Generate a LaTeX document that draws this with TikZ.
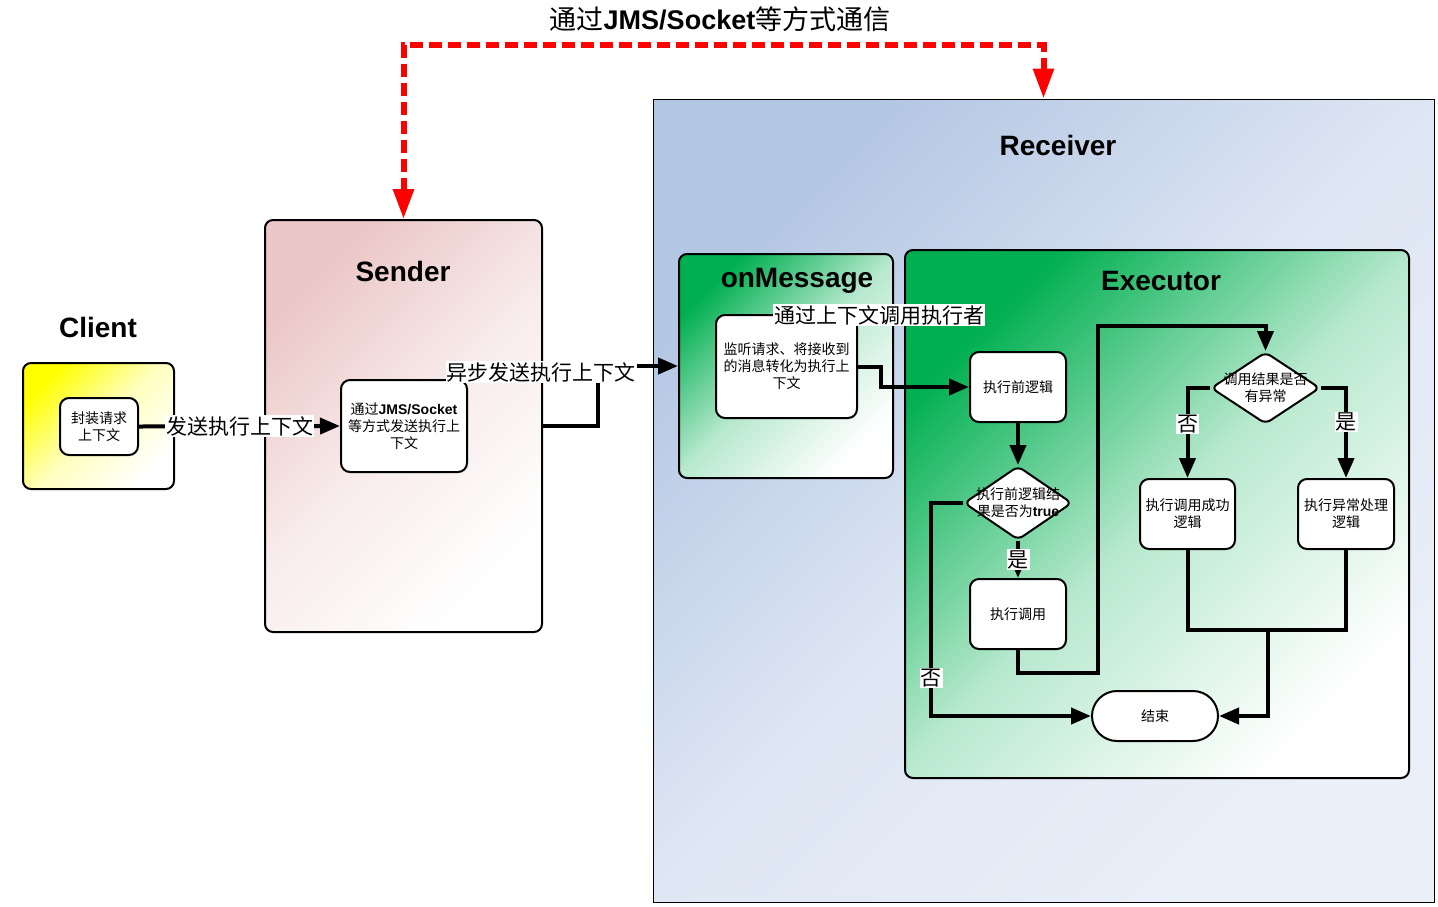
\documentclass[tikz,border=0pt]{standalone}
\usepackage{fontspec}
\setmainfont{Liberation Sans}
\newfontfamily\cjk{Noto Sans CJK SC}
\usetikzlibrary{shapes.geometric,arrows.meta,positioning}

\definecolor{clientyellow}{HTML}{FFFF00}
\definecolor{senderpink}{HTML}{EBC6C6}
\definecolor{recvblue}{HTML}{B3C6E3}
\definecolor{recvpale}{HTML}{EAEFF8}
\definecolor{execgreen}{HTML}{00AF50}

\tikzset{
  frame/.style={draw, line width=2pt, rounded corners=8pt},
  title/.style={font=\rmfamily\bfseries\fontsize{28}{28}\selectfont},
  box/.style={draw, fill=white, line width=2pt, rounded corners=9pt, align=center,
    inner sep=2pt, font=\cjk\fontsize{14}{17}\selectfont},
  decide/.style={draw, fill=white, line width=2pt, diamond, rounded corners=6pt, inner sep=0pt},
  conn/.style={line width=4pt, -{Triangle[length=20pt,width=16pt]}},
  lab/.style={fill=white, inner sep=1pt, font=\cjk\fontsize{21}{21}\selectfont}
}

\begin{document}
\begin{tikzpicture}[x=1pt, y=-1pt]
\useasboundingbox (0,0) rectangle (1438,906);

% containers
\node[frame, top color=clientyellow, bottom color=white, middle color=clientyellow!25!white,
  shading angle=45, minimum width=151pt, minimum height=126pt] (client) at (98.5,426) {};
\node[title] (clienttitle) at (98,327) {Client};
\node[frame, top color=senderpink, bottom color=white, middle color=senderpink!35!white,
  shading angle=45, minimum width=277pt, minimum height=412pt] (sender) at (403.5,426) {};
\node[title] (sendertitle) at (403,271) {Sender};
\node[draw, line width=1pt, top color=recvblue, bottom color=recvpale, middle color=recvpale!80!recvblue,
  shading angle=45, minimum width=781pt, minimum height=803pt] (receiver) at (1043.5,500.5) {};
\node[title] (receivertitle) at (1058,145) {Receiver};
\node[frame, top color=execgreen, bottom color=white, middle color=execgreen!28!white, shading angle=45,
  minimum width=214pt, minimum height=224pt] (onmsg) at (786,366) {};
\node[title] (onmsgtitle) at (797,281) {onMessage};
\node[frame, top color=execgreen, bottom color=white, middle color=execgreen!28!white, shading angle=45,
  minimum width=504pt, minimum height=528pt] (executor) at (1157,514) {};
\node[title] (executortitle) at (1161,281) {Executor};

% steps
\node[box, minimum width=78pt, minimum height=57pt] (wrap) at (99,426.5) {封装请求\\上下文};
\node[box, minimum width=126pt, minimum height=92pt] (send) at (404,426)
  {通过{\rmfamily\bfseries JMS/Socket}\\等方式发送执行上\\下文};
\node[box, minimum width=141pt, minimum height=103pt] (listen) at (786.5,366.5)
  {监听请求、将接收到\\的消息转化为执行上\\下文};
\node[box, minimum width=96pt, minimum height=70pt] (before) at (1018,387) {执行前逻辑};
\node[decide, minimum width=108pt, minimum height=74pt,
  label={[align=center, font=\cjk\fontsize{14}{17}\selectfont]center:执行前逻辑结\\果是否为{\rmfamily\bfseries true}}]
  (check) at (1018,503) {};
\node[box, minimum width=96pt, minimum height=70pt] (call) at (1018,614) {执行调用};
\node[decide, minimum width=109pt, minimum height=72pt,
  label={[align=center, font=\cjk\fontsize{14}{17}\selectfont]center:调用结果是否\\有异常}]
  (result) at (1265.5,388) {};
\node[box, minimum width=95pt, minimum height=70pt] (ok) at (1187.5,514) {执行调用成功\\逻辑};
\node[box, minimum width=96pt, minimum height=70pt] (fail) at (1346,514) {执行异常处理\\逻辑};
\node[box, rounded corners=25pt, minimum width=126pt, minimum height=50pt] (end) at (1155,716) {结束};

\coordinate (bus) at (720,45);
\coordinate (loop) at (1098,326);
\coordinate (join) at (1268,630);

% communication between sender and receiver
\draw[red, line width=6pt, dash pattern=on 13pt off 6pt,
  {Triangle[length=30pt,width=20pt]}-{Triangle[length=30pt,width=20pt]}]
  (sender.north) |- (bus) -| (receiver.north);
\node[font=\cjk\fontsize{27}{27}\selectfont] (bustitle) at (720,19)
  {通过{\rmfamily\bfseries JMS/Socket}等方式通信};

\draw[conn] (wrap.east) -- node[lab] {发送执行上下文} (send.west);
\draw[conn] (sender.east) -- ++(55,0) |- (onmsg.west)
  node[lab] at (541,372) {异步发送执行上下文};
\draw[conn] (listen.east) -- ++(23,0) |- (before.west)
  node[lab] at (879,315) {通过上下文调用执行者};
\draw[conn] (before) -- (check);
\draw[conn] (check) -- node[lab] {是} (call);
\draw[conn] (check.west) -- ++(-32,0) |- node[lab, pos=0.41] {否} (end.west);
\draw[conn] (call.south) -- ++(0,23) -| (loop) -| (result.north);
\draw[conn] (result.west) -| node[lab, pos=0.7] {否} (ok.north);
\draw[conn] (result.east) -| node[lab, pos=0.69] {是} (fail.north);
\draw[line width=4pt] (ok.south) |- (join);
\draw[line width=4pt] (fail.south) |- (join);
\draw[conn] (join) |- (end.east);
\end{tikzpicture}
\end{document}
